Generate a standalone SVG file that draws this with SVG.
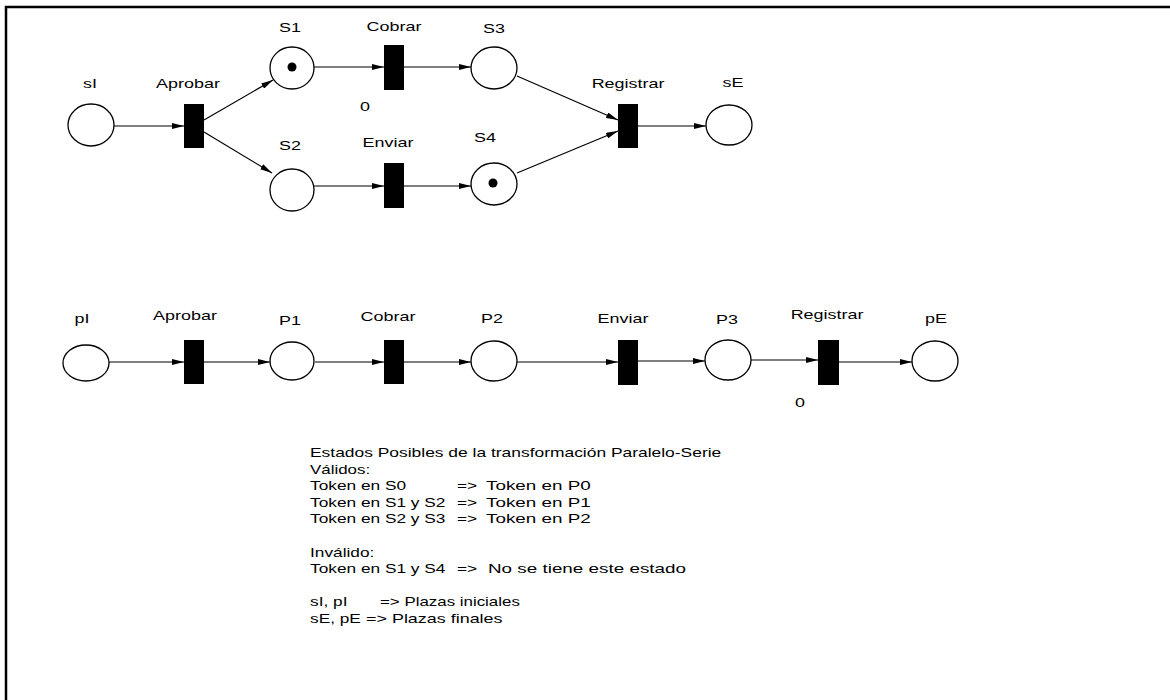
<svg xmlns="http://www.w3.org/2000/svg" width="1170" height="700" viewBox="0 0 1170 700">
  <style>
    .place { fill: #fff; stroke: #000; stroke-width: 1.3; }
    .trans { fill: #000; stroke: none; }
    .token { fill: #000; }
    .arc { fill: none; stroke: #000; stroke-width: 1.2; marker-end: url(#arrow); }
    .lbl { font-family: "Liberation Sans", Arial, sans-serif; font-size: 13px; fill: #000; text-anchor: middle; }
    .note { font-family: "Liberation Sans", Arial, sans-serif; font-size: 13px; fill: #000; }
  </style>
  <defs>
    <marker id="arrow" viewBox="0 0 12 6" refX="12" refY="3" markerWidth="12" markerHeight="6" markerUnits="userSpaceOnUse" orient="auto">
      <path d="M0,0 L12,3 L0,6 Z" fill="#000"/>
    </marker>
  </defs>
  <rect width="1170" height="700" fill="#fff"/>
  <!-- page frame: left and top edges -->
  <path d="M6,700 V7 H1170" fill="none" stroke="#000" stroke-width="2.5"/>

  <!-- connectors -->
  <g id="connectors">
    <!-- parallel net -->
    <line class="arc" x1="114" y1="126" x2="184" y2="126"/>
    <line class="arc" x1="204" y1="120" x2="273" y2="80"/>
    <line class="arc" x1="204" y1="132" x2="272" y2="173"/>
    <line class="arc" x1="314" y1="67" x2="384" y2="67"/>
    <line class="arc" x1="314" y1="186" x2="384" y2="186"/>
    <line class="arc" x1="404" y1="67" x2="471" y2="67"/>
    <line class="arc" x1="404" y1="186" x2="471" y2="186"/>
    <line class="arc" x1="517" y1="76" x2="618" y2="120"/>
    <line class="arc" x1="517" y1="173" x2="618" y2="131"/>
    <line class="arc" x1="638" y1="126" x2="706" y2="126"/>
    <!-- serial net -->
    <line class="arc" x1="109" y1="362" x2="184" y2="362"/>
    <line class="arc" x1="204" y1="362" x2="270" y2="362"/>
    <line class="arc" x1="315" y1="362" x2="384" y2="362"/>
    <line class="arc" x1="404" y1="362" x2="471" y2="362"/>
    <line class="arc" x1="517" y1="362" x2="618" y2="362"/>
    <line class="arc" x1="638" y1="361" x2="705" y2="361"/>
    <line class="arc" x1="751" y1="360" x2="818" y2="360"/>
    <line class="arc" x1="839" y1="362" x2="912" y2="362"/>
  </g>

  <!-- parallel net nodes -->
  <g id="sI"><ellipse class="place" cx="91" cy="125" rx="23" ry="21"/><text class="lbl" transform="translate(90,88) scale(1.38,1)">sI</text></g>
  <g id="t-aprobar-1"><rect class="trans" x="184" y="104" width="20" height="44"/><text class="lbl" transform="translate(188,88) scale(1.38,1)">Aprobar</text></g>
  <g id="S1"><ellipse class="place" cx="292" cy="68" rx="22" ry="21"/><circle class="token" cx="292" cy="67" r="4.5"/><text class="lbl" transform="translate(290,32) scale(1.38,1)">S1</text></g>
  <g id="S2"><ellipse class="place" cx="292" cy="190" rx="22" ry="21"/><text class="lbl" transform="translate(290,150) scale(1.38,1)">S2</text></g>
  <g id="t-cobrar-1"><rect class="trans" x="384" y="45" width="20" height="45"/><text class="lbl" transform="translate(394,31) scale(1.38,1)">Cobrar</text><text class="lbl" transform="translate(365,111) scale(1.38,1)">0</text></g>
  <g id="t-enviar-1"><rect class="trans" x="384" y="163" width="20" height="45"/><text class="lbl" transform="translate(388,147) scale(1.38,1)">Enviar</text></g>
  <g id="S3"><ellipse class="place" cx="494" cy="68" rx="23" ry="21"/><text class="lbl" transform="translate(494,33) scale(1.38,1)">S3</text></g>
  <g id="S4"><ellipse class="place" cx="494" cy="184" rx="23" ry="21"/><circle class="token" cx="493" cy="183" r="4.5"/><text class="lbl" transform="translate(485,142) scale(1.38,1)">S4</text></g>
  <g id="t-registrar-1"><rect class="trans" x="618" y="104" width="20" height="44"/><text class="lbl" transform="translate(628,88) scale(1.38,1)">Registrar</text></g>
  <g id="sE"><ellipse class="place" cx="729" cy="125" rx="23" ry="20"/><text class="lbl" transform="translate(733,87) scale(1.38,1)">sE</text></g>

  <!-- serial net nodes -->
  <g id="pI"><ellipse class="place" cx="86" cy="363" rx="23" ry="18"/><text class="lbl" transform="translate(82,323) scale(1.38,1)">pI</text></g>
  <g id="t-aprobar-2"><rect class="trans" x="184" y="340" width="20" height="44"/><text class="lbl" transform="translate(185,320) scale(1.38,1)">Aprobar</text></g>
  <g id="P1"><ellipse class="place" cx="292" cy="361" rx="22" ry="19"/><text class="lbl" transform="translate(290,325) scale(1.38,1)">P1</text></g>
  <g id="t-cobrar-2"><rect class="trans" x="384" y="340" width="20" height="44"/><text class="lbl" transform="translate(388,321) scale(1.38,1)">Cobrar</text></g>
  <g id="P2"><ellipse class="place" cx="494" cy="361" rx="23" ry="20"/><text class="lbl" transform="translate(492,323) scale(1.38,1)">P2</text></g>
  <g id="t-enviar-2"><rect class="trans" x="618" y="340" width="20" height="45"/><text class="lbl" transform="translate(623,323) scale(1.38,1)">Enviar</text></g>
  <g id="P3"><ellipse class="place" cx="728" cy="360" rx="23" ry="20"/><text class="lbl" transform="translate(727,324) scale(1.38,1)">P3</text></g>
  <g id="t-registrar-2"><rect class="trans" x="818" y="340" width="21" height="45"/><text class="lbl" transform="translate(827,319) scale(1.38,1)">Registrar</text><text class="lbl" transform="translate(800,407) scale(1.38,1)">0</text></g>
  <g id="pE"><ellipse class="place" cx="935" cy="361" rx="23" ry="20"/><text class="lbl" transform="translate(936,323) scale(1.38,1)">pE</text></g>

  <!-- explanatory notes -->
  <g id="notes">
    <text class="note" transform="translate(310,457) scale(1.34,1)">Estados Posibles de la transformación Paralelo-Serie</text>
    <text class="note" transform="translate(310,473.6) scale(1.3,1)">Válidos:</text>
    <text class="note" transform="translate(310,490.2) scale(1.33,1)">Token en S0</text>
    <text class="note" transform="translate(457,490.2) scale(1.33,1)">=&gt;</text>
    <text class="note" transform="translate(486,490.2) scale(1.45,1)">Token en P0</text>
    <text class="note" transform="translate(310,506.8) scale(1.33,1)">Token en S1 y S2</text>
    <text class="note" transform="translate(457,506.8) scale(1.33,1)">=&gt;</text>
    <text class="note" transform="translate(486,506.8) scale(1.45,1)">Token en P1</text>
    <text class="note" transform="translate(310,523.4) scale(1.33,1)">Token en S2 y S3</text>
    <text class="note" transform="translate(457,523.4) scale(1.33,1)">=&gt;</text>
    <text class="note" transform="translate(486,523.4) scale(1.45,1)">Token en P2</text>
    <text class="note" transform="translate(310,556.6) scale(1.33,1)">Inválido:</text>
    <text class="note" transform="translate(310,573.2) scale(1.33,1)">Token en S1 y S4</text>
    <text class="note" transform="translate(457,573.2) scale(1.33,1)">=&gt;</text>
    <text class="note" transform="translate(488,573.2) scale(1.45,1)">No se tiene este estado</text>
    <text class="note" transform="translate(310,606.4) scale(1.33,1)">sI, pI</text>
    <text class="note" transform="translate(380,606.4) scale(1.3,1)">=&gt; Plazas iniciales</text>
    <text class="note" transform="translate(310,623) scale(1.33,1)">sE, pE</text>
    <text class="note" transform="translate(366,623) scale(1.38,1)">=&gt; Plazas finales</text>
  </g>
</svg>
